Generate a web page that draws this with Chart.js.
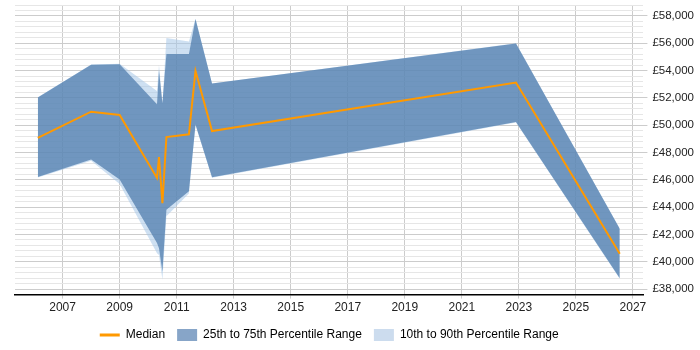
<!DOCTYPE html>
<html>
<head>
<meta charset="utf-8">
<script src="https://cdn.jsdelivr.net/npm/chart.js@4/dist/chart.umd.min.js"></script>
<style>
    html, body { margin: 0; padding: 0; background: #fff; }
</style>
</head>
<body>
<canvas id="canvas" width="700" height="350"></canvas>
<script>
const years = [2006.13, 2008.0, 2009.0, 2010.31, 2010.38, 2010.5, 2010.64, 2011.43, 2011.66, 2012.24, 2022.9, 2026.54];
const median = [49080, 50990, 50750, 46140, 47660, 44300, 49130, 49330, 53980, 49570, 53120, 40590];
const p75 = [52020, 54420, 54470, 51530, 54000, 51600, 55210, 55210, 57780, 53050, 55990, 42420];
const p25 = [46210, 47490, 46020, 41370, 41000, 39290, 43820, 45160, 50060, 46190, 50230, 38790];
const p90 = [52050, 54450, 54500, 52500, 54400, 51600, 56380, 56130, 57800, 53050, 56000, 42420];
const p10 = [46180, 47400, 45700, 40630, 40500, 38680, 43330, 45000, 50000, 46160, 50200, 38760];

const xTicks = [2007, 2009, 2011, 2013, 2015, 2017, 2019, 2021, 2023, 2025, 2027];
const yLabels = [38000, 40000, 42000, 44000, 46000, 48000, 50000, 52000, 54000, 56000, 58000];

const ORANGE = "#FF9900";
const DARK = "rgba(72, 119, 169, 0.7)";
const LIGHT = "rgba(165, 198, 232, 0.55)";
const DARK_KEY = "#87A5C8";
const LIGHT_KEY = "#CCDCEE";
const FONT = "'Liberation Sans', Arial, sans-serif";

function pts(values) {
    return years.map((y, i) => ({ x: y, y: values[i] }));
}

const isMajor = (v) => yLabels.includes(v);

const config = {
    type: "line",
    data: {
        datasets: [
            {
                label: "Median",
                data: pts(median),
                borderColor: ORANGE,
                backgroundColor: ORANGE,
                borderWidth: 2,
                fill: false,
                order: 0,
            },
            {
                label: "25th to 75th Percentile Range",
                data: pts(p75),
                backgroundColor: DARK,
                borderWidth: 0,
                fill: "+1",
                order: 1,
            },
            {
                label: "p25",
                data: pts(p25),
                borderWidth: 0,
                fill: false,
                order: 1,
            },
            {
                label: "10th to 90th Percentile Range",
                data: pts(p90),
                backgroundColor: LIGHT,
                borderWidth: 0,
                fill: "+1",
                order: 2,
            },
            {
                label: "p10",
                data: pts(p10),
                borderWidth: 0,
                fill: false,
                order: 2,
            },
        ],
    },
    options: {
        responsive: false,
        animation: false,
        elements: {
            point: { radius: 0 },
            line: { tension: 0 },
        },
        layout: {
            padding: { left: 15, right: 1, top: 5, bottom: -1 },
        },
        scales: {
            x: {
                type: "linear",
                min: 2005.33,
                max: 2027.37,
                afterBuildTicks: (axis) => {
                    axis.ticks = xTicks.map((v) => ({ value: v }));
                },
                border: { color: "#000", width: 1.5 },
                grid: { color: "#cccccc", tickLength: 4, tickColor: "#cccccc" },
                ticks: {
                    padding: 2,
                    autoSkip: false,
                    maxRotation: 0,
                    color: "#222",
                    font: { family: FONT, size: 12 },
                    callback: (value) => String(value),
                },
            },
            y: {
                position: "right",
                min: 37600,
                max: 58800,
                afterFit: (scale) => {
                    // top label is blank, so no room is needed above the plot
                    scale.paddingTop = 0;
                    scale.paddingBottom = 0;
                },
                border: { display: false },
                grid: {
                    color: (c) => (isMajor(c.tick.value) ? "#cccccc" : "#e6e6e6"),
                    tickColor: (c) => (isMajor(c.tick.value) ? "#cccccc" : "rgba(0,0,0,0)"),
                    tickLength: 4,
                },
                ticks: {
                    stepSize: 400,
                    autoSkip: false,
                    padding: 5,
                    color: "#222",
                    font: { family: FONT, size: 11.5 },
                    callback: (value) => (isMajor(value) ? "£" + value.toLocaleString("en-GB") : ""),
                },
            },
        },
        plugins: {
            tooltip: { enabled: false },
            legend: {
                position: "bottom",
                fullSize: false,
                labels: {
                    usePointStyle: true,
                    pointStyleWidth: 20,
                    boxHeight: 12,
                    padding: 12,
                    color: "#222",
                    font: { family: FONT, size: 12 },
                    generateLabels: () => [
                        { text: "Median", pointStyle: "line", strokeStyle: ORANGE, fillStyle: ORANGE, lineWidth: 3, datasetIndex: 0 },
                        { text: "25th to 75th Percentile Range", pointStyle: "rect", strokeStyle: DARK_KEY, fillStyle: DARK_KEY, lineWidth: 0, datasetIndex: 1 },
                        { text: "10th to 90th Percentile Range", pointStyle: "rect", strokeStyle: LIGHT_KEY, fillStyle: LIGHT_KEY, lineWidth: 0, datasetIndex: 3 },
                    ],
                },
            },
        },
    },
};

new Chart(document.getElementById("canvas"), config);
</script>
</body>
</html>
